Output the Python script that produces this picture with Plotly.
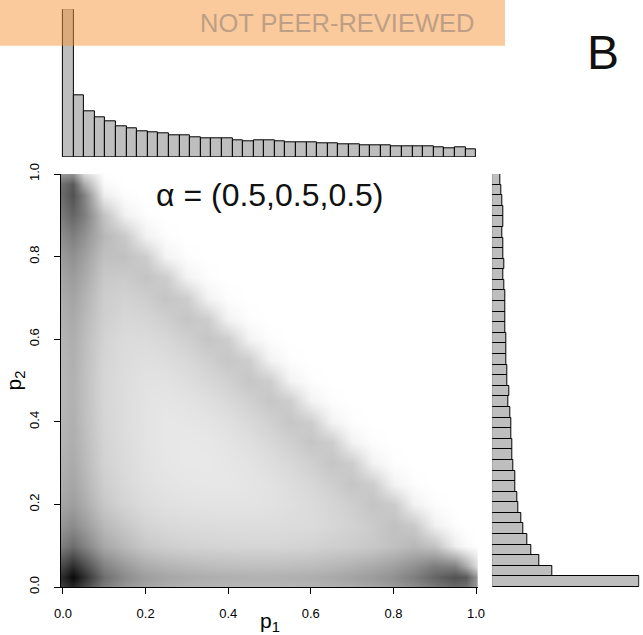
import plotly.graph_objects as go

# ---------------- data ----------------
# grid positions (p1 / p2) of the density image
grid = [0, 0.025, 0.05, 0.1, 0.15, 0.2, 0.25, 0.3, 0.35, 0.4, 0.45, 0.5,
        0.55, 0.6, 0.65, 0.7, 0.75, 0.8, 0.85, 0.9, 0.95, 0.975, 1.0]

# grey level (0 = black, 255 = white); rows = p2, columns = p1
gray = [
    [60, 40, 70, 125, 150, 165, 172, 177, 180, 182, 183, 183, 182, 180, 176, 171, 164, 155, 140, 120, 105, 110, 150],
    [40, 10, 45, 110, 140, 158, 166, 171, 174, 176, 177, 177, 176, 174, 170, 164, 156, 145, 127, 102, 82, 90, 145],
    [70, 45, 75, 130, 155, 172, 180, 185, 188, 190, 191, 191, 190, 188, 184, 178, 170, 160, 145, 125, 130, 170, 215],
    [125, 110, 130, 168, 185, 200, 206, 210, 212, 213, 214, 214, 213, 211, 207, 205, 200, 193, 184, 195, 238, 250, 254],
    [150, 140, 155, 185, 200, 212, 217, 219, 220, 221, 221, 221, 220, 219, 215, 210, 203, 193, 202, 241, 253, 255, 255],
    [165, 158, 172, 200, 212, 220, 224, 226, 227, 227, 227, 226, 223, 219, 213, 206, 196, 204, 242, 253, 255, 255, 255],
    [172, 166, 180, 206, 217, 224, 228, 230, 231, 231, 229, 226, 221, 215, 207, 197, 205, 243, 253, 255, 255, 255, 255],
    [177, 171, 185, 210, 219, 226, 230, 232, 232, 230, 227, 222, 216, 208, 197, 205, 243, 253, 255, 255, 255, 255, 255],
    [180, 174, 188, 212, 220, 227, 231, 232, 231, 228, 223, 216, 208, 197, 205, 243, 253, 255, 255, 255, 255, 255, 255],
    [182, 176, 190, 213, 221, 227, 231, 230, 228, 224, 217, 209, 198, 205, 243, 253, 255, 255, 255, 255, 255, 255, 255],
    [183, 177, 191, 214, 221, 227, 229, 227, 223, 217, 209, 198, 205, 243, 253, 255, 255, 255, 255, 255, 255, 255, 255],
    [183, 177, 191, 214, 221, 226, 226, 222, 216, 209, 198, 205, 243, 253, 255, 255, 255, 255, 255, 255, 255, 255, 255],
    [182, 176, 190, 213, 220, 223, 221, 216, 208, 198, 205, 243, 253, 255, 255, 255, 255, 255, 255, 255, 255, 255, 255],
    [180, 174, 188, 211, 219, 219, 215, 208, 197, 205, 243, 253, 255, 255, 255, 255, 255, 255, 255, 255, 255, 255, 255],
    [176, 170, 184, 207, 215, 213, 207, 197, 205, 243, 253, 255, 255, 255, 255, 255, 255, 255, 255, 255, 255, 255, 255],
    [171, 164, 178, 205, 210, 206, 197, 205, 243, 253, 255, 255, 255, 255, 255, 255, 255, 255, 255, 255, 255, 255, 255],
    [164, 156, 170, 200, 203, 196, 205, 243, 253, 255, 255, 255, 255, 255, 255, 255, 255, 255, 255, 255, 255, 255, 255],
    [155, 145, 160, 193, 193, 204, 243, 253, 255, 255, 255, 255, 255, 255, 255, 255, 255, 255, 255, 255, 255, 255, 255],
    [140, 127, 145, 184, 202, 242, 253, 255, 255, 255, 255, 255, 255, 255, 255, 255, 255, 255, 255, 255, 255, 255, 255],
    [120, 102, 125, 195, 241, 253, 255, 255, 255, 255, 255, 255, 255, 255, 255, 255, 255, 255, 255, 255, 255, 255, 255],
    [105, 82, 130, 238, 253, 255, 255, 255, 255, 255, 255, 255, 255, 255, 255, 255, 255, 255, 255, 255, 255, 255, 255],
    [110, 90, 170, 250, 255, 255, 255, 255, 255, 255, 255, 255, 255, 255, 255, 255, 255, 255, 255, 255, 255, 255, 255],
    [150, 145, 215, 254, 255, 255, 255, 255, 255, 255, 255, 255, 255, 255, 255, 255, 255, 255, 255, 255, 255, 255, 255],
]

# marginal histograms (39 equal bins over [0, 1]), bar heights
p1_counts = [443, 186, 137, 120, 106, 92, 87, 78, 74, 70, 65, 64, 60, 57, 56, 55, 50, 47, 50,
             49, 47, 44, 44, 43, 41, 41, 38, 38, 35, 36, 35, 33, 33, 33, 31, 28, 26, 28, 23]
p2_counts = [441, 181, 141, 118, 106, 93, 87, 78, 74, 68, 68, 64, 60, 59, 58, 57, 54, 49, 50,
             45, 44, 42, 42, 42, 39, 39, 38, 39, 37, 34, 35, 33, 34, 31, 34, 32, 30, 27, 23]

tick_vals = [0.0, 0.2, 0.4, 0.6, 0.8, 1.0]
tick_text = ["0.0", "0.2", "0.4", "0.6", "0.8", "1.0"]
title_text = "α = (0.5,0.5,0.5)"

# ---------------- figure ----------------
W, H = 643, 635
n_bins = len(p1_counts)
bin_w = 1.0 / n_bins
centers = [(i + 0.5) * bin_w for i in range(n_bins)]

FONT = "Liberation Sans, Arial, Helvetica, sans-serif"

fig = go.Figure()

fig.add_trace(go.Heatmap(
    x=grid, y=grid, z=gray, zmin=0, zmax=255, zsmooth="best",
    colorscale=[[0, "rgb(0,0,0)"], [1, "rgb(255,255,255)"]],
    showscale=False, hoverinfo="skip", xaxis="x", yaxis="y"))

fig.add_trace(go.Bar(
    x=centers, y=p1_counts, width=bin_w, xaxis="x2", yaxis="y2",
    marker=dict(color="#bebebe", line=dict(color="black", width=1)),
    hoverinfo="skip"))

fig.add_trace(go.Bar(
    y=centers, x=p2_counts, width=bin_w, orientation="h", xaxis="x3", yaxis="y3",
    marker=dict(color="#bebebe", line=dict(color="black", width=1)),
    hoverinfo="skip"))

def px_x(p):
    return p / W

def px_y(p):
    return (H - p) / H

main_xdom = [px_x(60.9), px_x(477.7)]
main_ydom = [px_y(587), px_y(174)]

axis_common = dict(showgrid=False, zeroline=False, showline=True, linecolor="black",
                   linewidth=1, ticks="outside", ticklen=6, tickcolor="black", tickwidth=1,
                   tickvals=tick_vals, ticktext=tick_text, automargin=False,
                   tickfont=dict(family=FONT, size=13, color="black"))
hidden = dict(visible=False, automargin=False, showgrid=False, zeroline=False)

fig.update_layout(
    width=W, height=H, autosize=False,
    margin=dict(l=0, r=0, t=0, b=0, pad=0, autoexpand=False),
    paper_bgcolor="white", plot_bgcolor="white", showlegend=False, bargap=0,
    xaxis=dict(domain=main_xdom, range=[-0.005, 1.004], anchor="y",
               ticklabelstandoff=8, **axis_common),
    yaxis=dict(domain=main_ydom, range=[0, 1], anchor="x", tickangle=-90,
               ticklabelstandoff=10, **axis_common),
    xaxis2=dict(domain=main_xdom, range=[-0.005, 1.004], anchor="y2", **hidden),
    yaxis2=dict(domain=[px_y(157), px_y(9.3)], range=[0, max(p1_counts)], anchor="x2", **hidden),
    xaxis3=dict(domain=[px_x(492.3), px_x(639.5)], range=[0, max(p2_counts)], anchor="y3", **hidden),
    yaxis3=dict(domain=main_ydom, range=[0, 1], anchor="x3", **hidden),
)

fig.add_shape(type="rect", xref="paper", yref="paper",
              x0=0, x1=px_x(505), y0=px_y(45.7), y1=1,
              fillcolor="rgba(245,150,60,0.5)", line=dict(width=0), layer="above")

fig.add_annotation(text="NOT PEER-REVIEWED", xref="paper", yref="paper",
                   x=px_x(337), y=px_y(23), xanchor="center", yanchor="middle", showarrow=False,
                   font=dict(family=FONT, size=25.5, color="rgb(190,158,132)"))
fig.add_annotation(text="B", xref="paper", yref="paper",
                   x=px_x(603), y=px_y(52), xanchor="center", yanchor="middle", showarrow=False,
                   font=dict(family=FONT, size=48, color="#111111"))
fig.add_annotation(text=title_text, xref="paper", yref="paper",
                   x=px_x(270), y=px_y(195), xanchor="center", yanchor="middle", showarrow=False,
                   font=dict(family=FONT, size=32, color="#111111"))
fig.add_annotation(text="p<sub>1</sub>", xref="paper", yref="paper",
                   x=px_x(269.5), y=px_y(622), xanchor="center", yanchor="middle", showarrow=False,
                   font=dict(family=FONT, size=21, color="black"))
fig.add_annotation(text="p<sub>2</sub>", xref="paper", yref="paper", textangle=-90,
                   x=px_x(14), y=px_y(380.5), xanchor="center", yanchor="middle", showarrow=False,
                   font=dict(family=FONT, size=21, color="black"))

fig.write_html("out.html", config={"displayModeBar": False},
               post_script="document.body.style.margin='0px';document.body.style.overflow='hidden';")
